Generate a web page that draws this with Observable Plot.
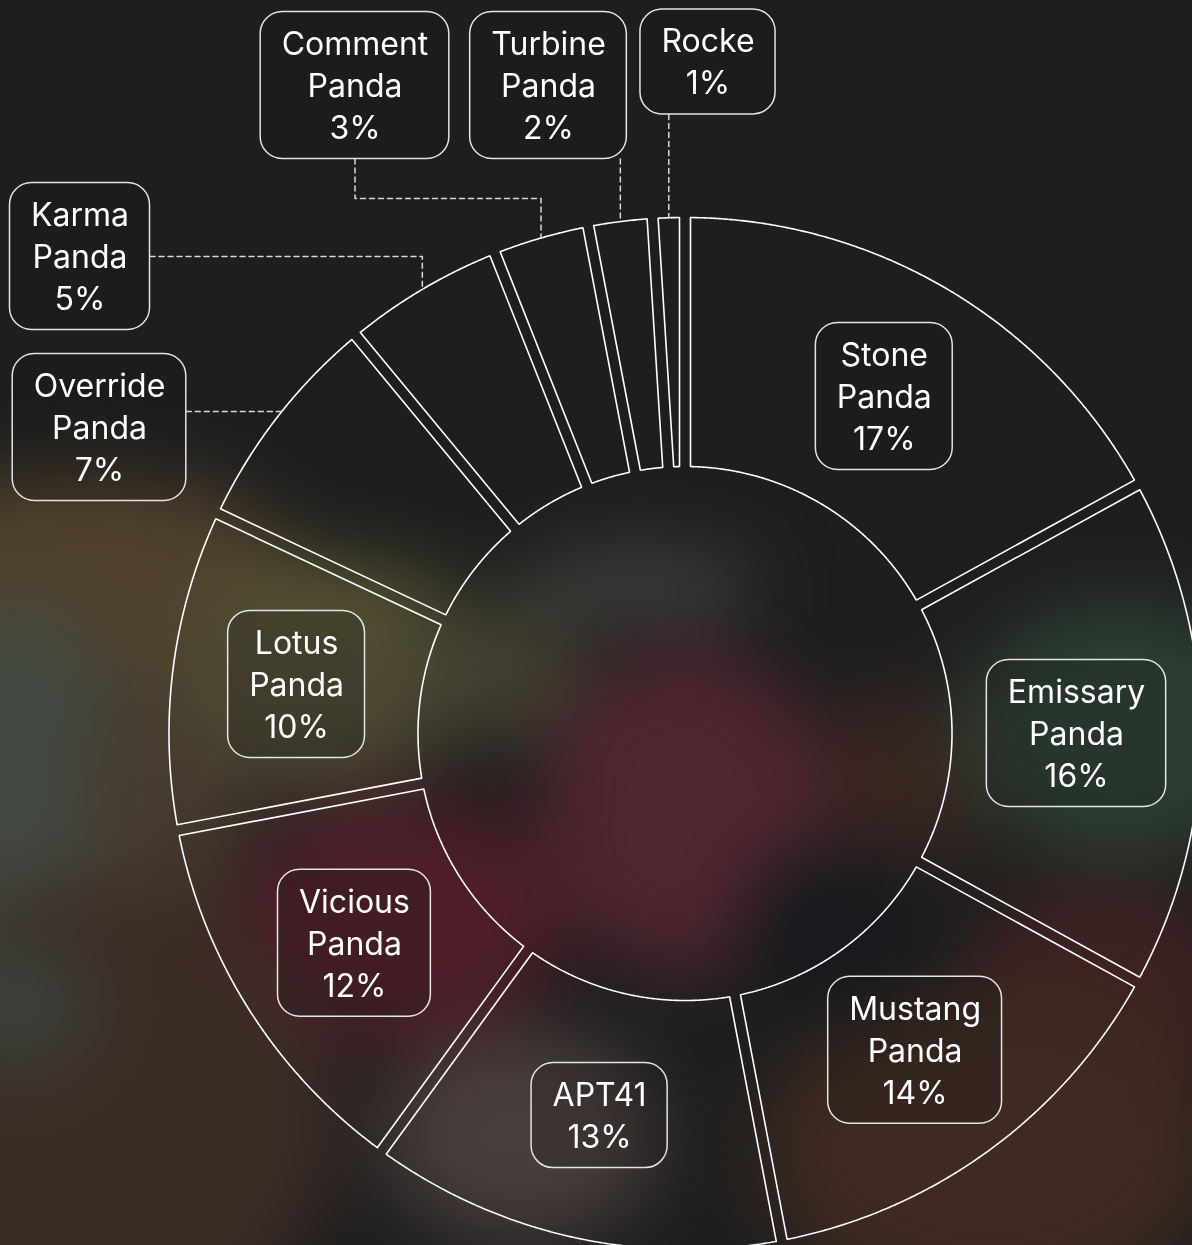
<!DOCTYPE html>
<html>
<head>
<meta charset="utf-8">
<script src="https://cdn.jsdelivr.net/npm/d3@7"></script>
<script src="https://cdn.jsdelivr.net/npm/@observablehq/plot@0.6"></script>
<style>
  html, body { margin: 0; padding: 0; background: #1e1e1e; }
  #wrap { position: relative; width: 1192px; height: 1245px; overflow: hidden; background: #1e1e1e; }
  #bg { position: absolute; left: 0; top: 0; width: 1192px; height: 1245px; filter: blur(38px); }
  #bg div { position: absolute; border-radius: 50%; }
  #chart { position: absolute; left: 0; top: 0; }
  #chart svg { background: transparent; }
</style>
</head>
<body>
<div id="wrap">
  <div id="bg">
    <div style="left:-160px;top:470px;width:480px;height:280px;background:rgb(80,66,44)"></div>
    <div style="left:-120px;top:600px;width:260px;height:420px;background:rgb(66,72,64)"></div>
    <div style="left:90px;top:660px;width:160px;height:260px;background:rgb(70,58,46)"></div>
    <div style="left:170px;top:560px;width:300px;height:230px;background:rgb(76,72,50)"></div>
    <div style="left:230px;top:570px;width:220px;height:50px;background:rgb(92,90,50)"></div>
    <div style="left:420px;top:600px;width:160px;height:140px;background:rgb(66,64,48)"></div>
    <div style="left:520px;top:550px;width:240px;height:70px;background:rgb(64,64,62)"></div>
    <div style="left:540px;top:650px;width:290px;height:320px;background:rgb(80,38,48)"></div>
    <div style="left:240px;top:800px;width:320px;height:240px;background:rgb(80,30,40)"></div>
    <div style="left:820px;top:690px;width:170px;height:190px;background:rgb(56,38,32)"></div>
    <div style="left:740px;top:840px;width:200px;height:190px;background:rgb(24,26,30)"></div>
    <div style="left:960px;top:600px;width:320px;height:260px;background:rgb(44,62,50)"></div>
    <div style="left:960px;top:880px;width:280px;height:240px;background:rgb(62,34,34)"></div>
    <div style="left:760px;top:990px;width:460px;height:320px;background:rgb(62,42,32)"></div>
    <div style="left:380px;top:1030px;width:280px;height:210px;background:rgb(72,62,60)"></div>
    <div style="left:-140px;top:880px;width:480px;height:460px;background:rgb(60,44,38)"></div>
    <div style="left:-60px;top:940px;width:150px;height:130px;background:rgb(58,66,58)"></div>
  </div>
  <div id="chart"></div>
</div>
<script>
// ---- data ----
const names = ["Stone Panda", "Emissary Panda", "Mustang Panda", "APT41", "Vicious Panda",
               "Lotus Panda", "Override Panda", "Karma Panda", "Comment Panda", "Turbine Panda", "Rocke"];
const shares = [17, 16, 14, 13, 12, 10, 7, 5, 3, 2, 1];
const labelLines = [
  ["Stone", "Panda"], ["Emissary", "Panda"], ["Mustang", "Panda"], ["APT41"], ["Vicious", "Panda"],
  ["Lotus", "Panda"], ["Override", "Panda"], ["Karma", "Panda"], ["Comment", "Panda"], ["Turbine", "Panda"], ["Rocke"]
];

// ---- layout (pixels) ----
const W = 1192, H = 1245;
const CX = 684.5, CY = 733, R_OUT = 516, R_IN = 267, HALF_GAP = 5.5;
const FONT = "Inter", FONT_SIZE = 32, LINE_H = 42, PAD_X = 21, PAD_Y = 10.5;
const callouts = {
  "Override Panda": {x: 99, y: 427, route: "h", ly: 411},
  "Karma Panda": {x: 79.5, y: 256, route: "hv"},
  "Comment Panda": {x: 354.5, y: 85, route: "vhv", ly: 198},
  "Turbine Panda": {x: 548, y: 85, route: "v"},
  "Rocke": {x: 707.5, y: 61.5, route: "v"}
};

const rows = names.map((name, i) => ({name, value: shares[i], lines: [...labelLines[i], shares[i] + "%"]}));
const arcs = d3.pie().sort(null).value(d => d.value)(rows);

const pt = (r, a) => [CX + r * Math.sin(a), CY - r * Math.cos(a)];

// slice outlines
const slicePts = [];
for (const a of arcs) {
  const n = a.data.name;
  const o0 = a.startAngle + Math.asin(HALF_GAP / R_OUT), o1 = a.endAngle - Math.asin(HALF_GAP / R_OUT);
  const i0 = a.startAngle + Math.asin(HALF_GAP / R_IN), i1 = a.endAngle - Math.asin(HALF_GAP / R_IN);
  const poly = [];
  const no = Math.max(2, Math.ceil((o1 - o0) / 0.004));
  for (let k = 0; k <= no; k++) poly.push(pt(R_OUT, o0 + (o1 - o0) * k / no));
  const ni = Math.max(2, Math.ceil((i1 - i0) / 0.004));
  for (let k = 0; k <= ni; k++) poly.push(pt(R_IN, i1 + (i0 - i1) * k / ni));
  poly.push(poly[0]);
  for (const [x, y] of poly) slicePts.push({name: n, x, y});
}

// text measurement
const ctx = document.createElement("canvas").getContext("2d");
ctx.font = `${FONT_SIZE}px ${FONT}`;

const labels = arcs.map(a => {
  const d = a.data;
  const mid = (a.startAngle + a.endAngle) / 2;
  const c = callouts[d.name];
  let x, y;
  if (c) { x = c.x; y = c.y; }
  else { [x, y] = pt((R_IN + R_OUT) / 2, mid); }
  const w = d3.max(d.lines, s => ctx.measureText(s).width) + 2 * PAD_X;
  const h = d.lines.length * LINE_H + 2 * PAD_Y;
  return {name: d.name, text: d.lines.join("\n"), x, y, w, h, mid,
          x1: x - w / 2, x2: x + w / 2, y1: y - h / 2, y2: y + h / 2};
});

// leader lines
const leaderPts = [];
for (const L of labels) {
  const c = callouts[L.name];
  if (!c) continue;
  const [ax, ay] = pt(R_OUT, L.mid);
  let p;
  if (c.route === "h") p = [[L.x2, c.ly], [CX - Math.sqrt(R_OUT * R_OUT - (CY - c.ly) ** 2), c.ly]];
  else if (c.route === "hv") p = [[L.x2, L.y], [ax, L.y], [ax, ay]];
  else if (c.route === "vhv") p = [[L.x, L.y2], [L.x, c.ly], [ax, c.ly], [ax, ay]];
  else p = [[ax, L.y2], [ax, ay]];
  for (const [x, y] of p) leaderPts.push({name: L.name, x, y});
}

const chart = Plot.plot({
  width: W, height: H, margin: 0,
  x: {domain: [0, W], range: [0, W], axis: null},
  y: {domain: [0, H], range: [0, H], axis: null},
  style: {background: "transparent", overflow: "visible"},
  marks: [
    Plot.line(slicePts, {x: "x", y: "y", z: "name", stroke: "#ffffff", strokeWidth: 1.6, strokeLinejoin: "miter", curve: "linear"}),
    Plot.line(leaderPts, {x: "x", y: "y", z: "name", stroke: "#d8d8d8", strokeWidth: 1.5, strokeDasharray: "5,4", curve: "linear"}),
    Plot.rect(labels, {x1: "x1", x2: "x2", y1: "y1", y2: "y2", rx: 22, fill: "rgba(22,22,22,0.22)", stroke: "#e4e4e4", strokeWidth: 1.5}),
    Plot.text(labels, {x: "x", y: "y", dy: -2, text: "text", fill: "#ffffff", fontSize: FONT_SIZE, fontFamily: FONT,
      lineHeight: LINE_H / FONT_SIZE, textAnchor: "middle", lineAnchor: "middle"})
  ]
});
document.getElementById("chart").appendChild(chart);
</script>
</body>
</html>
